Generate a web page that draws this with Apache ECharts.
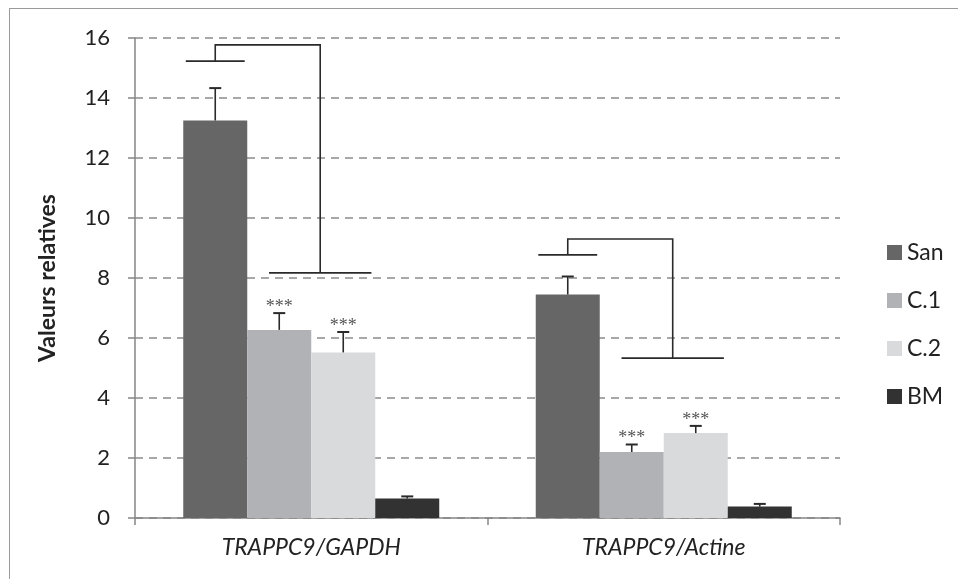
<!DOCTYPE html>
<html>
<head>
<meta charset="utf-8">
<script src="https://cdn.jsdelivr.net/npm/echarts@6/dist/echarts.min.js"></script>
<style>
html,body{margin:0;padding:0;background:#fff;}
#frame{position:absolute;left:9px;top:8px;width:1000px;height:600px;border-left:1.5px solid #9a9a9a;border-top:1.5px solid #9a9a9a;}
#chart{position:absolute;left:0;top:0;width:958px;height:579px;}
</style>
</head>
<body>
<div id="frame"></div>
<div id="chart"></div>
<script>
// ---- data ----
const categories = ['TRAPPC9/GAPDH', 'TRAPPC9/Actine'];
const seriesNames = ['San', 'C.1', 'C.2', 'BM'];
const sanValues = [13.25, 7.45];
const c1Values = [6.27, 2.2];
const c2Values = [5.52, 2.83];
const bmValues = [0.65, 0.38];
const sanErrTop = [14.33, 8.05];
const c1ErrTop = [6.83, 2.45];
const c2ErrTop = [6.2, 3.07];
const bmErrTop = [0.72, 0.47];
const sigMarks = [['', '***', '***', ''], ['', '***', '***', '']];
// brackets: [low line over San, top of bracket, low line of comparison]
const bracketLow = [15.23, 8.77];
const bracketTop = [15.77, 9.3];
const bracketRight = [8.17, 5.33];
const yTicks = [0, 2, 4, 6, 8, 10, 12, 14, 16];

// ---- styles ----
const colors = ['#666666', '#b1b2b6', '#d9dadc', '#333233'];
const BW = 64;
const FONT = 'Lato, "Open Sans", sans-serif';

const values = [sanValues, c1Values, c2Values, bmValues];
const errTops = [sanErrTop, c1ErrTop, c2ErrTop, bmErrTop];

const errData = [];
for (let c = 0; c < categories.length; c++) {
  for (let s = 0; s < 4; s++) {
    errData.push([c, s, values[s][c], errTops[s][c], sigMarks[c][s]]);
  }
}
const bracketData = categories.map((_, c) => [c, bracketLow[c], bracketTop[c], bracketRight[c]]);

const chart = echarts.init(document.getElementById('chart'), null, {renderer: 'canvas'});
const lineStyle = {stroke: '#2a2a2a', lineWidth: 1.6};

const option = {
  animation: false,
  backgroundColor: 'transparent',
  grid: {left: 135, right: 118, top: 38, bottom: 61},
  legend: {
    orient: 'vertical',
    left: 882, top: 236,
    itemWidth: 15, itemHeight: 15, itemGap: 25,
    icon: 'rect',
    data: seriesNames,
    textStyle: {fontFamily: FONT, fontSize: 23, color: '#222', padding: [0, 0, 0, 0]}
  },
  xAxis: {
    type: 'category',
    data: categories,
    axisLine: {lineStyle: {color: '#868686', width: 1.5}},
    axisTick: {show: true, length: 7, lineStyle: {color: '#868686', width: 1.5}},
    axisLabel: {fontFamily: FONT, fontSize: 23, fontStyle: 'italic', color: '#222', margin: 18}
  },
  yAxis: {
    type: 'value',
    min: 0, max: 16, interval: 2,
    name: 'Valeurs relatives',
    nameLocation: 'middle',
    nameGap: 76,
    nameTextStyle: {fontFamily: FONT, fontSize: 23, fontWeight: 'bold', color: '#222'},
    axisLine: {show: true, lineStyle: {color: '#868686', width: 1.5}},
    axisTick: {show: true, length: 7, lineStyle: {color: '#868686', width: 1.5}},
    axisLabel: {fontFamily: FONT, fontSize: 22, color: '#222', margin: 25,
      formatter: v => yTicks.includes(v) ? String(v) : ''},
    splitLine: {show: true, lineStyle: {color: '#8c8c8c', width: 1.5, type: [8, 6]}}
  },
  series: [
    ...seriesNames.map((n, i) => ({
      name: n, type: 'bar', data: values[i], barWidth: BW, barGap: 0,
      itemStyle: {color: colors[i]}, z: 2
    })),
    {
      type: 'custom', name: 'err', data: errData, z: 5, silent: true,
      encode: {x: 0, y: 3},
      renderItem: function (params, api) {
        const c = api.value(0), s = api.value(1);
        const base = api.coord([c, api.value(2)]);
        const top = api.coord([c, api.value(3)]);
        const x = base[0] + (s - 1.5) * BW;
        const children = [
          {type: 'line', shape: {x1: x, y1: base[1], x2: x, y2: top[1]}, style: lineStyle},
          {type: 'line', shape: {x1: x - 6, y1: top[1], x2: x + 6, y2: top[1]}, style: {stroke: '#2a2a2a', lineWidth: 2}}
        ];
        const sig = errData[params.dataIndex][4];
        if (sig) {
          children.push({type: 'text', x: x, y: top[1] - 6,
            style: {text: sig, fill: '#555', font: '18px "Liberation Serif", serif', textAlign: 'center', textVerticalAlign: 'middle'}});
        }
        return {type: 'group', children: children};
      }
    },
    {
      type: 'custom', name: 'bracket', data: bracketData, z: 6, silent: true,
      encode: {x: 0, y: 2},
      renderItem: function (params, api) {
        const c = api.value(0);
        const low = api.coord([c, api.value(1)]);
        const top = api.coord([c, api.value(2)]);
        const right = api.coord([c, api.value(3)]);
        const xl = low[0] - 1.5 * BW;
        const xr = low[0] + 0.14 * BW;
        const hl = 0.46 * BW, hr = 0.8 * BW;
        return {type: 'group', children: [
          {type: 'line', shape: {x1: xl - hl, y1: low[1], x2: xl + hl, y2: low[1]}, style: lineStyle},
          {type: 'polyline', shape: {points: [[xl, low[1]], [xl, top[1]], [xr, top[1]], [xr, right[1]]]}, style: Object.assign({fill: null}, lineStyle)},
          {type: 'line', shape: {x1: xr - hr, y1: right[1], x2: xr + hr, y2: right[1]}, style: lineStyle}
        ]};
      }
    }
  ]
};
chart.setOption(option);
</script>
</body>
</html>
